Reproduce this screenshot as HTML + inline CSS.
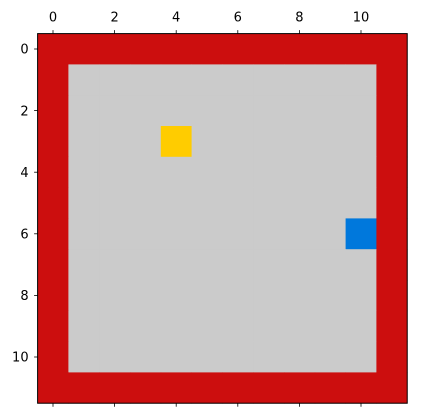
<!DOCTYPE html>
<html><head><meta charset="utf-8"><style>
html,body{margin:0;padding:0;background:#fff;}
svg{display:block;font-family:"DejaVu Sans","Liberation Sans",sans-serif;}
</style></head><body>
<svg id="chart" width="422" height="419"></svg>
<script>
const gridRows = [
"RRRRRRRRRRRR",
"RGGGGGGGGGGR",
"RGGGGGGGGGGR",
"RGGGYGGGGGGR",
"RGGGGGGGGGGR",
"RGGGGGGGGGGR",
"RGGGGGGGGGBR",
"RGGGGGGGGGGR",
"RGGGGGGGGGGR",
"RGGGGGGGGGGR",
"RGGGGGGGGGGR",
"RRRRRRRRRRRR"
];
const xTicks = [0,2,4,6,8,10];
const yTicks = [0,2,4,6,8,10];
const colorMap = {R:"#cc0e0e",G:"#cbcbcb",Y:"#ffcc00",B:"#0078dc"};

const NS="http://www.w3.org/2000/svg";
const svg=document.getElementById('chart');
const L=37.6,T=33.6,W=369.6,H=369.6,n=12;
const xs=v=>L+(v+0.5)/n*W;
const ys=v=>T+(v+0.5)/n*H;
function mk(t,a){const e=document.createElementNS(NS,t);for(const k in a)e.setAttribute(k,a[k]);svg.appendChild(e);return e;}
const cw=W/n;
gridRows.forEach((row,r)=>{[...row].forEach((c,col)=>{
  const e=mk('rect',{x:xs(col)-cw/2,y:ys(r)-cw/2,width:cw+0.4,height:cw+0.4,fill:colorMap[c]});
  
  
});});
const fr=mk('rect',{x:L,y:T,width:W,height:H,fill:'none',stroke:'#000','stroke-width':1});


xTicks.forEach(v=>{
  const x=xs(v);
  mk('line',{x1:x,y1:T,x2:x,y2:T-3.5,stroke:'#000','stroke-width':0.8});
  mk('line',{x1:x,y1:T+H,x2:x,y2:T+H+3.5,stroke:'#000','stroke-width':0.8});
  const t=mk('text',{x:x,y:T-12,'font-size':13,'text-anchor':'middle',fill:'#000'});
  t.textContent=v;
  
  
});
yTicks.forEach(v=>{
  const y=ys(v);
  mk('line',{x1:L,y1:y,x2:L-3.5,y2:y,stroke:'#000','stroke-width':0.8});
  const t=mk('text',{x:L-9,y:y+4.7,'font-size':13,'text-anchor':'end',fill:'#000'});
  t.textContent=v;
  
  
});
</script>
</body></html>
